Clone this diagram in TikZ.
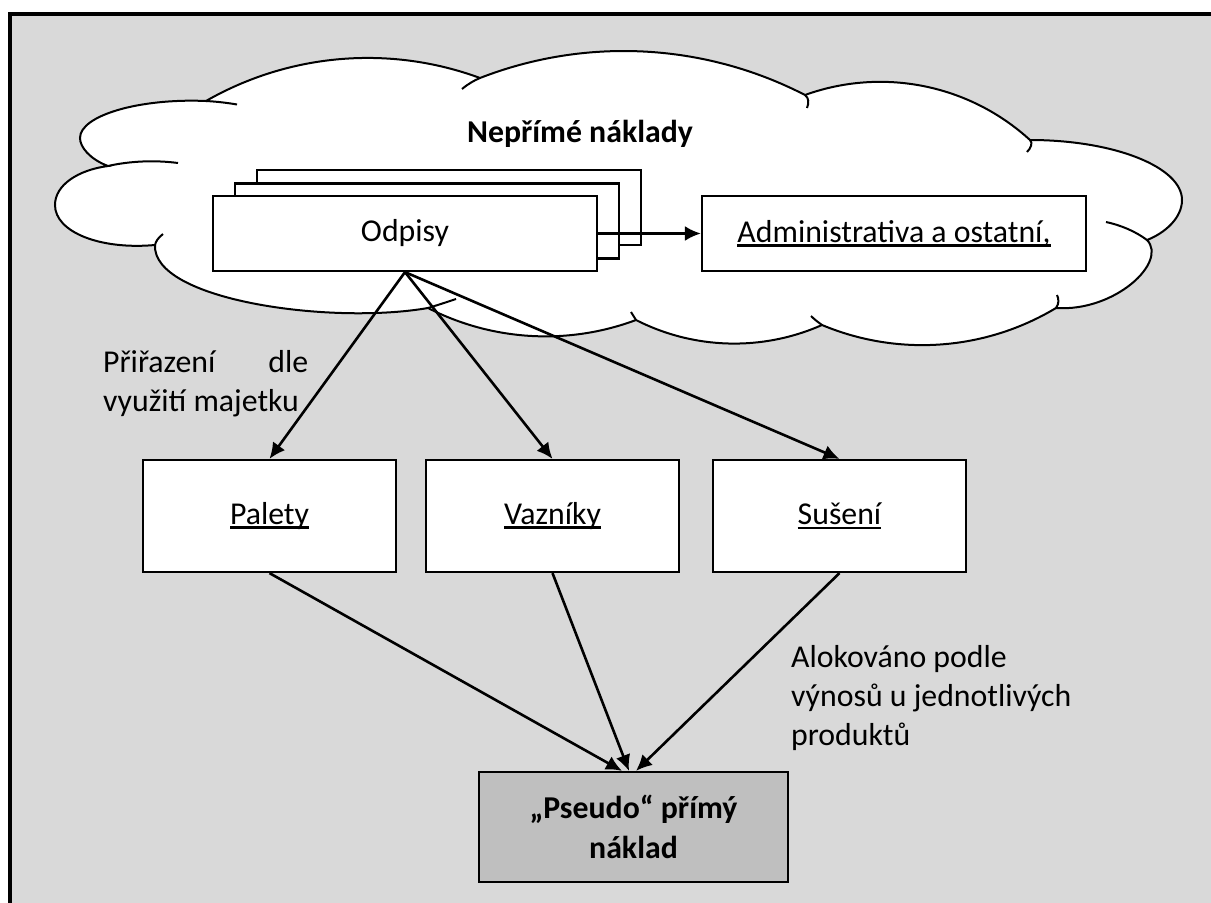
\documentclass[tikz,border=0pt]{standalone}
\usepackage{fontspec}
\setmainfont{Carlito}
\usetikzlibrary{arrows.meta,calc}
\definecolor{bggray}{HTML}{D9D9D9}
\definecolor{boxgray}{HTML}{BFBFBF}
% underline at a fixed depth below the baseline, the way a word processor sets it
\newsavebox\ulbox
\newcommand\ulx[1]{\sbox\ulbox{#1}\rlap{\rule[-4.4bp]{\wd\ulbox}{2.5bp}}\usebox\ulbox}
\tikzset{
  cloudline/.style={draw=black, fill=white, line width=2bp, line join=miter},
  stub/.style={draw=black, line width=2bp},
  box/.style={draw=black, fill=white, line width=2.2bp, inner sep=0pt},
  widebox/.style={box, minimum width=384bp, minimum height=75bp},
  unitbox/.style={box, minimum width=253bp, minimum height=112bp},
  resultbox/.style={box, fill=boxgray, minimum width=309bp, minimum height=110bp, align=center},
  conn/.style={line width=2.6bp, -{Latex[length=16bp,width=15bp]}},
  label/.style={inner sep=0pt, anchor=base west}
}
\begin{document}
\begin{tikzpicture}[x=1bp, y=-1bp, font=\fontsize{31.8bp}{39.4bp}\selectfont]
\fill[white] (0,0) rectangle (1211,903);
\useasboundingbox (0,0) rectangle (1211,903);

% page frame
\fill[bggray] (10,14) rectangle (1211,903);
\draw[line width=4bp] (10,903) -- (10,14) -- (1211,14);

% cloud of indirect costs
\path[cloudline] (206,101)
  .. controls (289.4,53.2) and (389.8,44.7) .. (480,78)
  .. controls (585.7,36.8) and (704.2,43.0) .. (805,95)
  .. controls (882.5,67.0) and (969.2,84.4) .. (1030,140)
  .. controls (1114,140) and (1182,167) .. (1182,200)
  .. controls (1182,218) and (1165,233) .. (1147,240)
  .. controls (1168,262) and (1115,312) .. (1056,308)
  .. controls (985.1,350.6) and (898.3,356.9) .. (822,325)
  .. controls (762.4,351.4) and (694.1,349.6) .. (636,320)
  .. controls (568.1,345.4) and (492.5,341.1) .. (428,308)
  .. controls (330,325) and (152,300) .. (155,245)
  .. controls (100,250) and (55,232) .. (55,205)
  .. controls (55,185) and (78,170) .. (108,166)
  .. controls (89.9,159.2) and (80,147.1) .. (80,138)
  .. controls (80,115.4) and (139.6,98.1) .. (206,101) -- cycle;
% inner ends of the cloud lobes
\path[stub] (206,101) .. controls (217,101.6) and (227,102.8) .. (237,104.5);
\path[stub] (480,78) .. controls (474,80.5) and (468,84) .. (462,89);
\path[stub] (805,95) .. controls (809,98) and (809,103) .. (807,108);
\path[stub] (1030,140) .. controls (1033,143) and (1031,148) .. (1027,152);
\path[stub] (1147,240) .. controls (1135,231) and (1120,225) .. (1106,222);
\path[stub] (1056,308) .. controls (1059,304) and (1059,299) .. (1057,295);
\path[stub] (822,325) .. controls (818,322) and (815,320) .. (811,316);
\path[stub] (636,320) .. controls (634,317) and (633,315) .. (631,312);
\path[stub] (428,308) .. controls (438,305) and (447,302) .. (456,299);
\path[stub] (155,245) .. controls (156,241) and (158,238) .. (163,234);
\path[stub] (108,166) .. controls (130,161) and (155,160) .. (178,163);

\node[anchor=base, inner sep=0pt] (nep) at (580,142) {\bfseries Nepřímé náklady};

% stacked depreciation cards
\node[widebox] (odpB) at (449,207.5) {};
\node[widebox] (odpM) at (427,221) {};
\node[widebox] (odp) at (405,233.5) {Odpisy};
\node[widebox] (adm) at (894,233.5) {\ulx{Administrativa a ostatní,}};

% cost centres
\node[unitbox] (pal) at (269.5,516) {\ulx{Palety}};
\node[unitbox] (vaz) at (552.5,516) {\ulx{Vazníky}};
\node[unitbox] (sus) at (839.5,516) {\ulx{Sušení}};

\node[resultbox] (ps) at (633.5,827) {\bfseries „Pseudo“ přímý\\\bfseries náklad};

% connectors
\draw[conn] (odp.east) -- (adm.west);
\draw[conn] (odp.south) -- (pal.north);
\draw[conn] (odp.south) -- (vaz.north);
\draw[conn] (odp.south) -- (sus.north);
\draw[conn] (pal.south) -- ($(ps.north)+(-11.5,0)$);
\draw[conn] (vaz.south) -- ($(ps.north)+(-4.5,0)$);
\draw[conn] (sus.south) -- ($(ps.north)+(2.5,0)$);

% annotations
\node[label] (assign) at (103,372)
  {\vtop{\hbox to 205bp{Přiřazení\hfill dle}\hbox{využití majetku}}};
\node[label] (alloc) at (791,667)
  {\vtop{\hbox{Alokováno podle}\hbox{výnosů u jednotlivých}\hbox{produktů}}};
\end{tikzpicture}
\end{document}
